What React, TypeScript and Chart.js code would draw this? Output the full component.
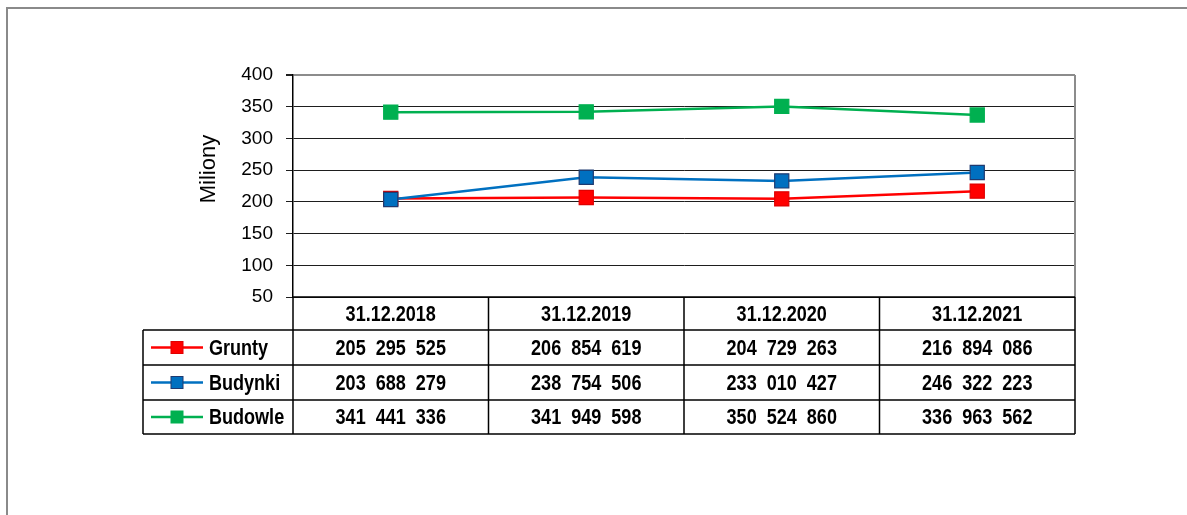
import React, { useEffect, useRef } from "react";
import { Chart, registerables } from "chart.js";

Chart.register(...registerables);

// ---- data ----
const categories = ["31.12.2018", "31.12.2019", "31.12.2020", "31.12.2021"];
const seriesNames = ["Grunty", "Budynki", "Budowle"];
const grunty = [205295525, 206854619, 204729263, 216894086];
const budynki = [203688279, 238754506, 233010427, 246322223];
const budowle = [341441336, 341949598, 350524860, 336963562];
const yMin = 50;
const yMax = 400;
const yStep = 50;
const yAxisTitle = "Miliony";

const seriesValues = [grunty, budynki, budowle];
const seriesColors = ["#FF0000", "#0070C0", "#00B050"];
const seriesBorders = ["#E00000", "#1F3A70", "#00B050"];

const fmt = (n: number) => String(n).replace(/\B(?=(\d{3})+(?!\d))/g, "  ");

function narrowAvailable(ctx: CanvasRenderingContext2D) {
  const s = "31.12.2018 Budowle";
  ctx.font = 'bold 22px "Liberation Sans Narrow", monospace';
  const a = ctx.measureText(s).width;
  ctx.font = 'bold 22px "Liberation Sans Narrow", serif';
  const b = ctx.measureText(s).width;
  return Math.abs(a - b) < 0.01;
}

const tablePlugin = {
  id: "dataTable",
  afterDraw(chart: any) {
    const ctx: CanvasRenderingContext2D = chart.ctx;
    const { left, right, top, bottom } = chart.chartArea;
    const xs = chart.scales.x;
    const n = categories.length;
    const colEdges: number[] = [];
    for (let i = 0; i <= n; i++) colEdges.push(xs.getPixelForValue(i - 0.5));
    const rowEdges = [bottom, bottom + 33, bottom + 68, bottom + 103, bottom + 137];
    const legendLeft = left - 150;

    ctx.save();
    // plot area right border (gray)
    ctx.strokeStyle = "#8c8c8c";
    ctx.lineWidth = 2;
    ctx.beginPath();
    ctx.moveTo(right, top);
    ctx.lineTo(right, bottom);
    ctx.stroke();

    // table grid
    ctx.strokeStyle = "#000";
    ctx.lineWidth = 1.5;
    ctx.beginPath();
    // header row top
    ctx.moveTo(left, rowEdges[0]);
    ctx.lineTo(right, rowEdges[0]);
    for (let r = 1; r < rowEdges.length; r++) {
      ctx.moveTo(legendLeft, rowEdges[r]);
      ctx.lineTo(right, rowEdges[r]);
    }
    for (let c = 0; c <= n; c++) {
      ctx.moveTo(colEdges[c], rowEdges[0]);
      ctx.lineTo(colEdges[c], rowEdges[rowEdges.length - 1]);
    }
    ctx.moveTo(legendLeft, rowEdges[1]);
    ctx.lineTo(legendLeft, rowEdges[rowEdges.length - 1]);
    ctx.stroke();

    const narrow = narrowAvailable(ctx);
    const sx = narrow ? 1 : 0.82;
    ctx.font = narrow
      ? 'bold 22px "Liberation Sans Narrow", "Arial Narrow", sans-serif'
      : 'bold 22px "Liberation Sans", Arial, sans-serif';
    ctx.fillStyle = "#000";
    ctx.textBaseline = "middle";
    const drawText = (t: string, x: number, y: number, align: CanvasTextAlign) => {
      ctx.save();
      ctx.translate(x, y);
      ctx.scale(sx, 1);
      ctx.textAlign = align;
      ctx.fillText(t, 0, 0);
      ctx.restore();
    };

    // header
    for (let c = 0; c < n; c++) {
      const cx = xs.getPixelForValue(c);
      drawText(categories[c], cx, (rowEdges[0] + rowEdges[1]) / 2 + 1, "center");
    }
    // rows
    for (let s = 0; s < seriesNames.length; s++) {
      const cy = (rowEdges[s + 1] + rowEdges[s + 2]) / 2 + 1;
      // legend key
      const lx = legendLeft + 8;
      ctx.strokeStyle = seriesColors[s];
      ctx.lineWidth = 2.5;
      ctx.beginPath();
      ctx.moveTo(lx, cy - 1);
      ctx.lineTo(lx + 52, cy - 1);
      ctx.stroke();
      ctx.fillStyle = seriesColors[s];
      ctx.fillRect(lx + 20, cy - 7, 12, 12);
      ctx.strokeStyle = seriesBorders[s];
      ctx.lineWidth = 1;
      ctx.strokeRect(lx + 20, cy - 7, 12, 12);
      ctx.fillStyle = "#000";
      drawText(seriesNames[s], legendLeft + 66, cy, "left");
      for (let c = 0; c < n; c++) {
        const cx = xs.getPixelForValue(c);
        drawText(fmt(seriesValues[s][c]), cx, cy, "center");
      }
    }

    // y axis title
    ctx.save();
    ctx.translate(215, 169);
    ctx.rotate(-Math.PI / 2);
    ctx.font = '22px "Liberation Sans", Arial, sans-serif';
    ctx.textAlign = "center";
    ctx.textBaseline = "alphabetic";
    ctx.fillStyle = "#000";
    ctx.fillText(yAxisTitle, 0, 0);
    ctx.restore();

    ctx.restore();
  },
};

export default function App() {
  const ref = useRef<HTMLCanvasElement | null>(null);
  useEffect(() => {
    if (!ref.current) return;
    const mk = (i: number, order: number) => ({
      label: seriesNames[i],
      data: seriesValues[i].map((v) => v / 1e6),
      borderColor: seriesColors[i],
      backgroundColor: seriesColors[i],
      pointBackgroundColor: seriesColors[i],
      pointBorderColor: seriesBorders[i],
      pointBorderWidth: 1.2,
      pointStyle: "rect",
      pointRadius: 10,
      borderWidth: 2.5,
      tension: 0,
      order,
    });
    const chart = new Chart(ref.current, {
      type: "line",
      data: {
        labels: categories,
        datasets: [mk(0, 1), mk(1, 0), mk(2, 2)] as any,
      },
      plugins: [tablePlugin as any],
      options: {
        responsive: false,
        animation: false,
        devicePixelRatio: 1,
        layout: { padding: { left: 0, top: 75, right: 112, bottom: 218 } },
        plugins: {
          legend: { display: false },
          tooltip: { enabled: false },
          title: { display: false },
        },
        scales: {
          x: { type: "category", offset: true, display: false },
          y: {
            min: yMin,
            max: yMax,
            ticks: {
              stepSize: yStep,
              padding: 13,
              color: "#000",
              font: { family: '"Liberation Sans", Arial, sans-serif', size: 19 },
            },
            grid: {
              color: (c: any) => (c.tick && c.tick.value === yMax ? "#8c8c8c" : "#1e1e1e"),
              lineWidth: (c: any) => (c.tick && c.tick.value === yMax ? 2 : 1),
              tickLength: 7,
              tickColor: "#1e1e1e",
            },
            border: { color: "#000", width: 1.5 },
            afterFit: (s: any) => {
              s.width = 293;
            },
          },
        },
      } as any,
    });
    return () => chart.destroy();
  }, []);
  return (
    <div style={{ position: "absolute", left: 0, top: 0, width: 1187, height: 515, background: "#fff", overflow: "hidden" }}>
      <div
        style={{
          position: "absolute",
          left: 6,
          top: 7,
          width: 1181,
          height: 508,
          borderLeft: "2px solid #8a8a8a",
          borderTop: "2px solid #8a8a8a",
          boxSizing: "border-box",
        }}
      />
      <canvas ref={ref} width={1187} height={515} style={{ position: "absolute", left: 0, top: 0, display: "block" }} />
    </div>
  );
}
